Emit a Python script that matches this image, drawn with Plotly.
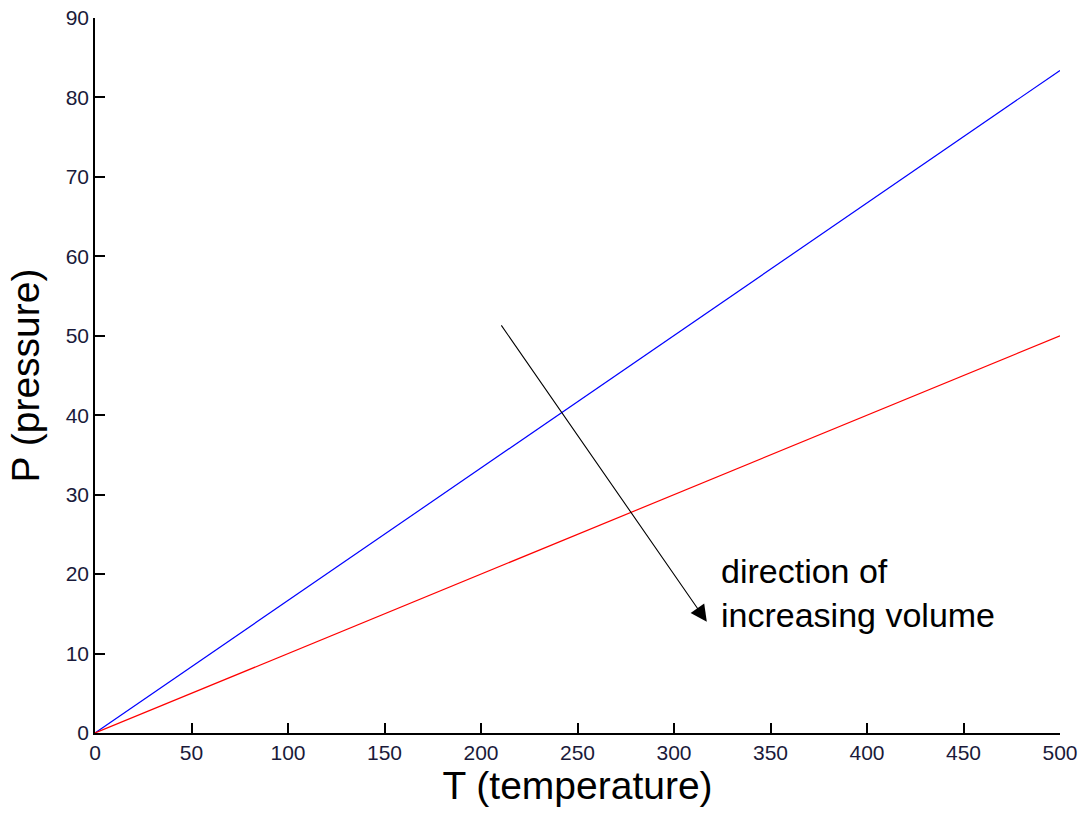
import plotly.graph_objects as go

# Data
T = [0, 500]
P_blue = [0, 83.4]
P_red = [0, 50]
arrow_start = (210, 51.5)
arrow_end = (317, 14)
label_text = "direction of<br>increasing volume"
label_pos = (323.5, 17.6)
x_ticks = [0, 50, 100, 150, 200, 250, 300, 350, 400, 450, 500]
y_ticks = [0, 10, 20, 30, 40, 50, 60, 70, 80, 90]

fig = go.Figure()
fig.add_trace(go.Scatter(x=T, y=P_blue, mode="lines", line=dict(color="#0000ff", width=1.2), showlegend=False))
fig.add_trace(go.Scatter(x=T, y=P_red, mode="lines", line=dict(color="#ff0000", width=1.2), showlegend=False))

fig.add_annotation(x=arrow_end[0], y=arrow_end[1], ax=arrow_start[0], ay=arrow_start[1],
                   xref="x", yref="y", axref="x", ayref="y", text="", showarrow=True,
                   arrowhead=2, arrowsize=3, arrowwidth=1.1, arrowcolor="black")
fig.add_annotation(x=label_pos[0], y=label_pos[1], xref="x", yref="y", text=label_text,
                   showarrow=False, xanchor="left", yanchor="middle", align="left",
                   font=dict(family="Liberation Sans, Arial, sans-serif", size=34, color="black"))

tickfont = dict(family="Liberation Sans Narrow, Arial Narrow, Liberation Sans, sans-serif", size=21, color="#1a1a3a")
axis_common = dict(showgrid=False, zeroline=False, showline=True, linecolor="black", linewidth=1.5,
                   ticks="inside", ticklen=10, tickwidth=1.5, tickcolor="black", tickfont=tickfont,
                   mirror=False, automargin=False)

fig.update_xaxes(range=[0, 500], tickvals=x_ticks, ticktext=[str(v) for v in x_ticks],
                 title=dict(text="T (temperature)", font=dict(family="Liberation Sans, Arial, sans-serif", size=39, color="black"), standoff=8),
                 **axis_common)
fig.update_yaxes(range=[0, 90], tickvals=y_ticks, ticktext=[str(v) for v in y_ticks],
                 title=dict(text="P (pressure)", font=dict(family="Liberation Sans, Arial, sans-serif", size=39, color="black"), standoff=14),
                 **axis_common)

fig.update_layout(width=1086, height=819, margin=dict(l=95, r=26, t=18, b=86),
                  plot_bgcolor="white", paper_bgcolor="white")

fig.write_html("out.html")
